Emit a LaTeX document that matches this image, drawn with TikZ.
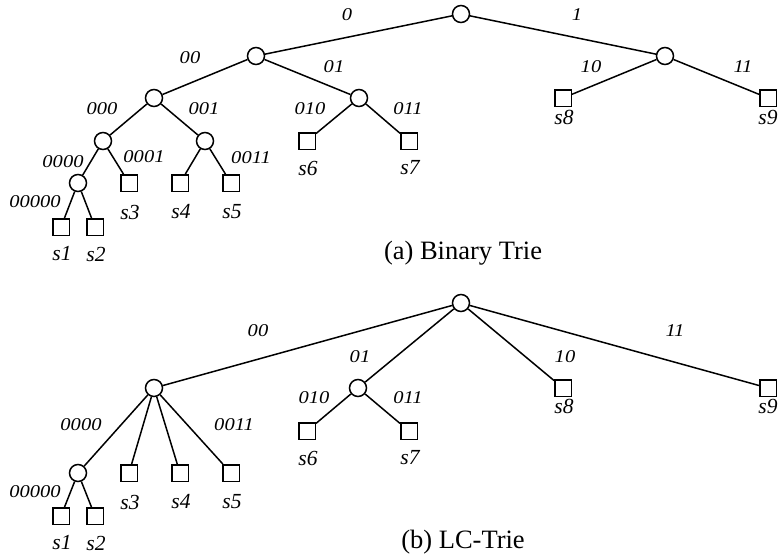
\documentclass[tikz,border=0pt]{standalone}
\usepackage{fontspec}
\setmainfont{Liberation Serif}
\newfontfamily\edgefont[FakeStretch=1.14]{Liberation Serif}
\begin{document}
\begin{tikzpicture}[x=1pt,y=-1pt,
  inode/.style={circle,draw,line width=1.5pt,minimum size=17pt,inner sep=0pt,fill=white},
  leaf/.style={rectangle,draw,line width=1.5pt,minimum size=16.5pt,inner sep=0pt,fill=white},
  edge/.style={line width=1.5pt},
  lab/.style={font=\edgefont\fontsize{18}{21}\selectfont\itshape,inner sep=0pt},
  leaflab/.style={font=\fontsize{21.5}{24}\selectfont\itshape,inner sep=0pt},
  captext/.style={font=\fontsize{26.5}{30}\selectfont,inner sep=0pt}]
\useasboundingbox (0,0) rectangle (780,557);
% ---------- (a) Binary Trie ----------
\node[inode] (ar) at (461,14) {};
\node[inode] (a0) at (256,56) {};
\node[inode] (a1) at (665,56) {};
\node[inode] (a00) at (154,98) {};
\node[inode] (a01) at (359,98) {};
\node[inode] (a000) at (103,141) {};
\node[inode] (a001) at (205,141) {};
\node[inode] (a0000) at (78,183) {};
\node[leaf] (as1) at (61,227) {};
\node[leaf] (as2) at (95,227) {};
\node[leaf] (as3) at (129,183) {};
\node[leaf] (as4) at (180,183) {};
\node[leaf] (as5) at (231,183) {};
\node[leaf] (as6) at (307,141) {};
\node[leaf] (as7) at (409,141) {};
\node[leaf] (as8) at (563,98) {};
\node[leaf] (as9) at (768,98) {};
\draw[edge] (ar) -- (a0) (ar) -- (a1)
  (a0) -- (a00) (a0) -- (a01)
  (a00) -- (a000) (a00) -- (a001)
  (a000) -- (a0000) (a000) -- (as3)
  (a0000) -- (as1) (a0000) -- (as2)
  (a001) -- (as4) (a001) -- (as5)
  (a01) -- (as6) (a01) -- (as7)
  (a1) -- (as8) (a1) -- (as9);
\node[lab] (la0) at (347,15) {0};
\node[lab] (la1) at (577,15) {1};
\node[lab] (la00) at (190,58) {00};
\node[lab] (la01) at (334,67) {01};
\node[lab] (la10) at (591,67) {10};
\node[lab] (la11) at (743,67) {11};
\node[lab] (la000) at (102,109) {000};
\node[lab] (la001) at (204,109) {001};
\node[lab] (la010) at (310,109) {010};
\node[lab] (la011) at (408,109) {011};
\node[lab] (la0000) at (63,162) {0000};
\node[lab] (la0001) at (144,157) {0001};
\node[lab] (la0011) at (251,158) {0011};
\node[lab] (la00000) at (35,202) {00000};
\node[leaflab] (tas1) at (62,254) {s1};
\node[leaflab] (tas2) at (96,254) {s2};
\node[leaflab] (tas3) at (130,212) {s3};
\node[leaflab] (tas4) at (181,212) {s4};
\node[leaflab] (tas5) at (232,212) {s5};
\node[leaflab] (tas6) at (308,168) {s6};
\node[leaflab] (tas7) at (410,168) {s7};
\node[leaflab] (tas8) at (564,117) {s8};
\node[leaflab] (tas9) at (768,117) {s9};
\node[captext] (capa) at (463,253) {(a) Binary Trie};
% ---------- (b) LC-Trie ----------
\node[inode] (br) at (461,303) {};
\node[inode] (b00) at (154,388) {};
\node[inode] (b01) at (358,388) {};
\node[inode] (b0000) at (78,473) {};
\node[leaf] (bs1) at (61,516) {};
\node[leaf] (bs2) at (95,516) {};
\node[leaf] (bs3) at (129,473) {};
\node[leaf] (bs4) at (180,473) {};
\node[leaf] (bs5) at (231,473) {};
\node[leaf] (bs6) at (307,431) {};
\node[leaf] (bs7) at (409,431) {};
\node[leaf] (bs8) at (563,388) {};
\node[leaf] (bs9) at (768,388) {};
\draw[edge] (br) -- (b00) (br) -- (b01) (br) -- (bs8) (br) -- (bs9)
  (b00) -- (b0000) (b00) -- (bs3) (b00) -- (bs4) (b00) -- (bs5)
  (b0000) -- (bs1) (b0000) -- (bs2)
  (b01) -- (bs6) (b01) -- (bs7);
\node[lab] (lb00) at (258,331) {00};
\node[lab] (lb01) at (360,357) {01};
\node[lab] (lb10) at (565,357) {10};
\node[lab] (lb11) at (675,331) {11};
\node[lab] (lb010) at (314,398) {010};
\node[lab] (lb011) at (408,398) {011};
\node[lab] (lb0000) at (81,425) {0000};
\node[lab] (lb0011) at (234,425) {0011};
\node[lab] (lb00000) at (35,492) {00000};
\node[leaflab] (tbs1) at (62,543) {s1};
\node[leaflab] (tbs2) at (96,543) {s2};
\node[leaflab] (tbs3) at (130,502) {s3};
\node[leaflab] (tbs4) at (181,502) {s4};
\node[leaflab] (tbs5) at (232,502) {s5};
\node[leaflab] (tbs6) at (308,458) {s6};
\node[leaflab] (tbs7) at (410,458) {s7};
\node[leaflab] (tbs8) at (564,406) {s8};
\node[leaflab] (tbs9) at (768,406) {s9};
\node[captext] (capb) at (463,542) {(b) LC-Trie};
\end{tikzpicture}
\end{document}
